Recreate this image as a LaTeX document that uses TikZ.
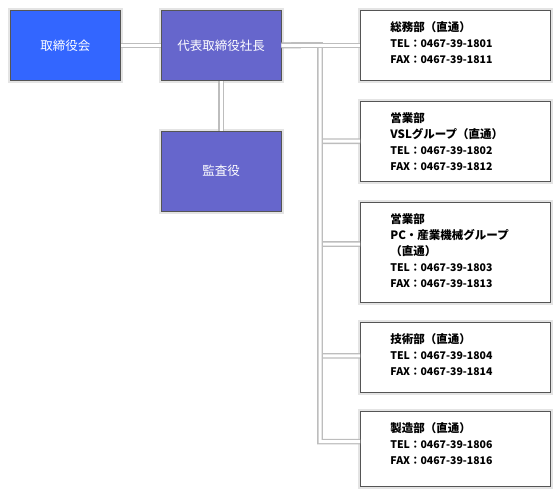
\documentclass[tikz,border=0pt]{standalone}
\usepackage{fontspec}
\setmainfont{Noto Sans CJK JP}
\usepackage{xcolor}
\definecolor{board}{HTML}{3366FF}
\definecolor{exec}{HTML}{6666CC}
\definecolor{frame}{HTML}{555555}
\definecolor{halo}{HTML}{E4E4E4}
\definecolor{wire}{HTML}{BDBDBD}
\usepackage{tikz}
\usetikzlibrary{positioning}

\newcommand{\hd}{\fontsize{11.5pt}{16pt}\selectfont\bfseries}
\newcommand{\tl}{\fontsize{10.5pt}{16pt}\selectfont\bfseries}
\newcommand{\depttext}[2]{\parbox[c][#1][t]{190pt}{\leftskip=30pt
  \fontsize{11.5pt}{16pt}\selectfont\rule{0pt}{21pt}#2}}

\begin{document}
\begin{tikzpicture}[x=1pt, y=-1pt,
  orgbox/.style={draw=frame, line width=0.8pt, inner sep=0pt,
    anchor=north west, preaction={draw=halo, line width=5pt, rounded corners=2pt}},
  headbox/.style={orgbox, minimum height=70pt, text=white,
    font=\fontsize{12.5pt}{15pt}\selectfont},
  deptbox/.style={orgbox, fill=white, text=black},
  wire/.style={draw=wire, line width=1.3pt, double=white, double distance=3pt}]

  \useasboundingbox (0,0) rectangle (560,490);

  \node[headbox, fill=board, minimum width=110pt] at (10,10) (board) {取締役会};

  \node[headbox, fill=exec, minimum width=120pt,
        right=40pt of board] (ceo) {代表取締役社長};

  \node[headbox, fill=exec, minimum width=120pt, minimum height=80pt,
        below=50pt of ceo] (audit) {監査役};

  \node[deptbox] at (360,10) (d1)
    {\depttext{70pt}{{\hd 総務部（直通）}\\
      {\tl TEL：0467-39-1801}\\
      {\tl FAX：0467-39-1811}}};

  \node[deptbox, below=20pt of d1] (d2)
    {\depttext{80pt}{{\hd 営業部}\\
      {\hd VSLグループ（直通）}\\
      {\tl TEL：0467-39-1802}\\
      {\tl FAX：0467-39-1812}}};

  \node[deptbox, below=20pt of d2] (d3)
    {\depttext{100pt}{{\hd 営業部}\\
      {\hd PC・産業機械グループ}\\
      {\hd （直通）}\\
      {\tl TEL：0467-39-1803}\\
      {\tl FAX：0467-39-1813}}};

  \node[deptbox, below=20pt of d3] (d4)
    {\depttext{70pt}{{\hd 技術部（直通）}\\
      {\tl TEL：0467-39-1804}\\
      {\tl FAX：0467-39-1814}}};

  \node[deptbox, below=18pt of d4] (d5)
    {\depttext{75pt}{{\hd 製造部（直通）}\\
      {\tl TEL：0467-39-1806}\\
      {\tl FAX：0467-39-1816}}};

  % connectors
  \coordinate (trunk) at (320,45);

  \draw[wire] (board) -- (ceo);
  \draw[wire] (ceo) -- (audit);
  \draw[wire] (ceo.east) -- (trunk) |- (d2.west);
  \draw[wire] (ceo.east) -- (trunk) |- ([yshift=8pt]d3.west);
  \draw[wire] (ceo.east) -- (trunk) |- ([yshift=2pt]d4.west);
  \draw[wire] (ceo.east) -- (trunk) |- ([yshift=7.5pt]d5.west);
  \draw[wire] (ceo) -- (d1);

\end{tikzpicture}
\end{document}
